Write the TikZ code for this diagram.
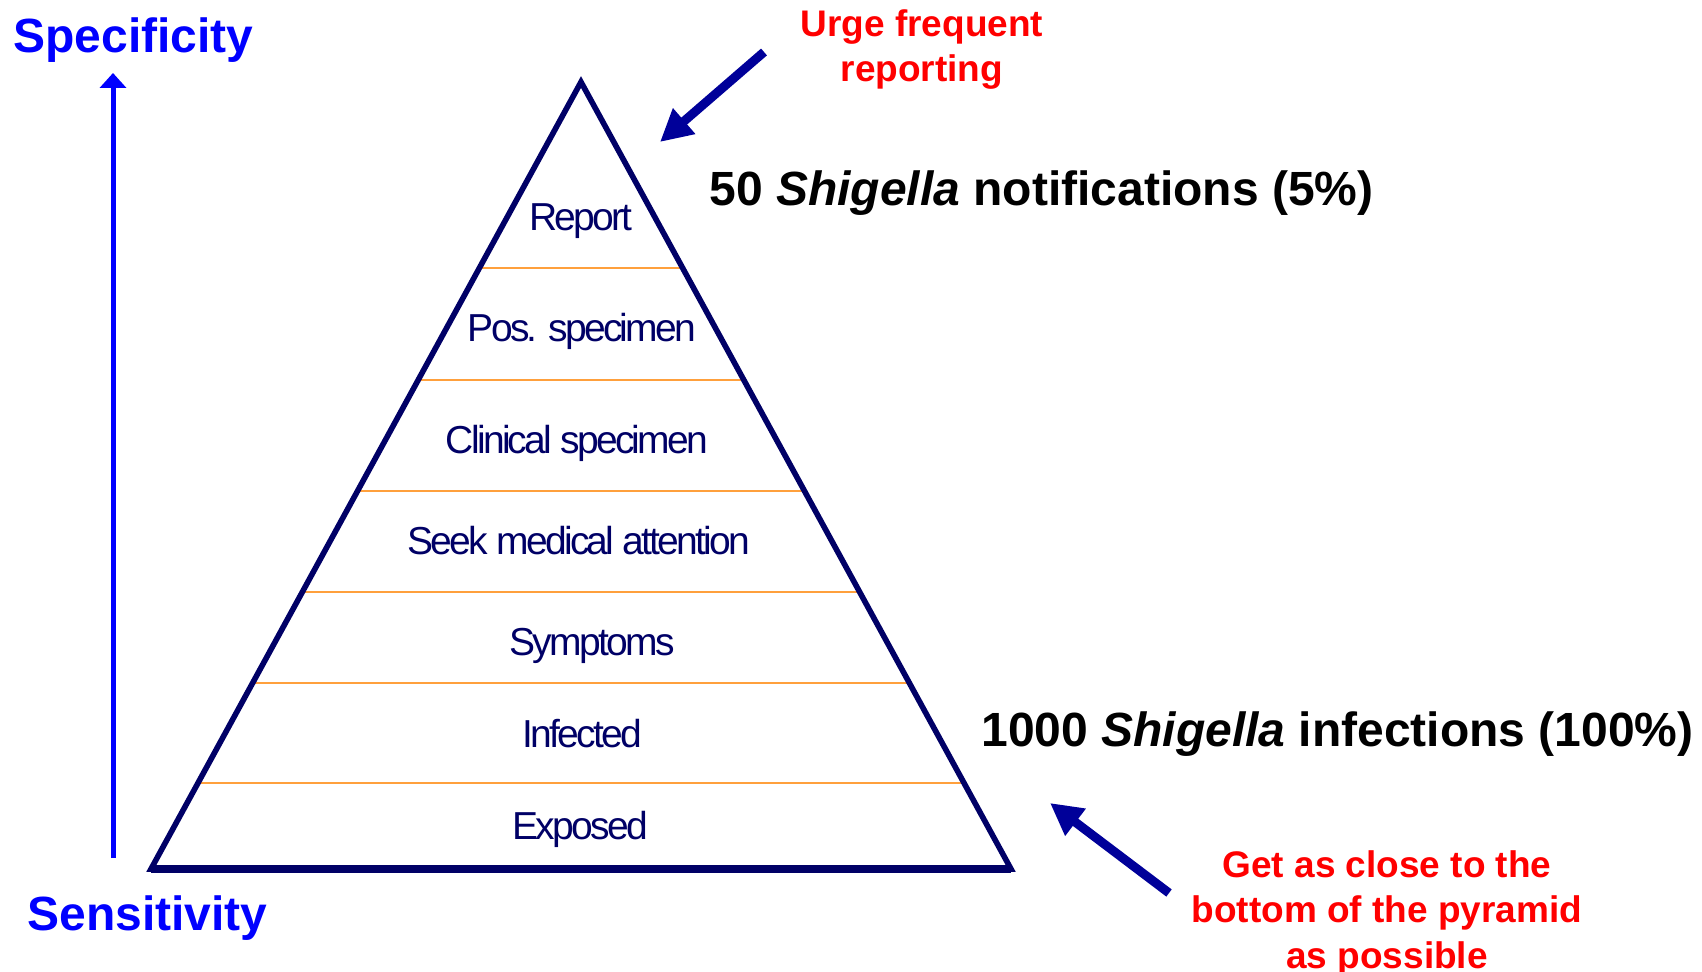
\documentclass[tikz,border=0pt]{standalone}
\usepackage{fontspec}
\setmainfont{Liberation Sans}
\newfontfamily\layerfont[LetterSpace=-7]{Liberation Sans}
\usetikzlibrary{arrows.meta,calc}

\definecolor{pyrnavy}{RGB}{0,0,102}
\definecolor{arrownavy}{RGB}{0,0,153}
\definecolor{layerorange}{RGB}{255,160,60}

\tikzset{
	layer/.style={font=\layerfont\fontsize{19.5}{23}\selectfont, text=pyrnavy, anchor=base, inner sep=0pt},
	axislabel/.style={font=\bfseries\fontsize{24}{28}\selectfont, text=blue, anchor=base west, inner sep=0pt},
	count/.style={font=\bfseries\fontsize{24}{28}\selectfont, anchor=base west, inner sep=0pt},
	hint/.style={font=\bfseries\fontsize{18.5}{22.75}\selectfont, text=red, align=center, anchor=base, inner sep=0pt},
	pointer/.style={draw=arrownavy, line width=4.5pt, -{Triangle[length=16pt,width=16pt]}},
	divider/.style={draw=layerorange, line width=0.8pt},
}

\begin{document}
\begin{tikzpicture}[x=0.5pt,y=-0.5pt]
	\useasboundingbox (0,0) rectangle (1702,972);
	\coordinate (apex) at (581,82);
	\coordinate (bl) at (151,869);
	\coordinate (br) at (1011,869);
	\foreach \h in {268,380,491,592,683,783}
		\draw[divider] ($(apex)!{(\h-82)/787}!(bl)$) -- ($(apex)!{(\h-82)/787}!(br)$);
	\draw[pyrnavy, line width=2.8pt] (bl) -- (apex) -- (br) -- cycle;
	\draw[pyrnavy, line width=4pt] (bl) -- (br);

	\node[layer] (report) at (581,231) {Report};
	\node[layer] (posspec) at (582,342) {Pos. specimen};
	\node[layer] (clinspec) at (577,454) {Clinical specimen};
	\node[layer] (seek) at (579,555) {Seek medical attention};
	\node[layer] (symptoms) at (592,655) {Symptoms};
	\node[layer] (infected) at (582,747) {Infected};
	\node[layer] (exposed) at (580,839) {Exposed};

	\node[axislabel] (spec) at (13,53) {Specificity};
	\node[axislabel] (sens) at (27,930) {Sensitivity};
	\coordinate (axisfoot) at (113,858);
	\coordinate (axishead) at (113,73);
	\draw[blue, line width=2.5pt, -{Triangle[length=7.5pt,width=13pt]}] (axisfoot) -- (axishead);

	\node[count] (notif) at (709,206) {50 \textit{Shigella} notifications (5\%)};
	\node[count] (infect) at (981,746) {1000 \textit{Shigella} infections (100\%)};

	\node[hint] (urge) at (922,82) {Urge frequent\\reporting};
	\node[hint] (closer) at (1387,968) {Get as close to the\\bottom of the pyramid\\as possible};
	\coordinate (urgetail) at (764,52);
	\coordinate (urgetip) at (660,142);
	\coordinate (closertail) at (1169,893);
	\coordinate (closertip) at (1050,803);
	\draw[pointer] (urgetail) -- (urgetip);
	\draw[pointer] (closertail) -- (closertip);
\end{tikzpicture}
\end{document}
